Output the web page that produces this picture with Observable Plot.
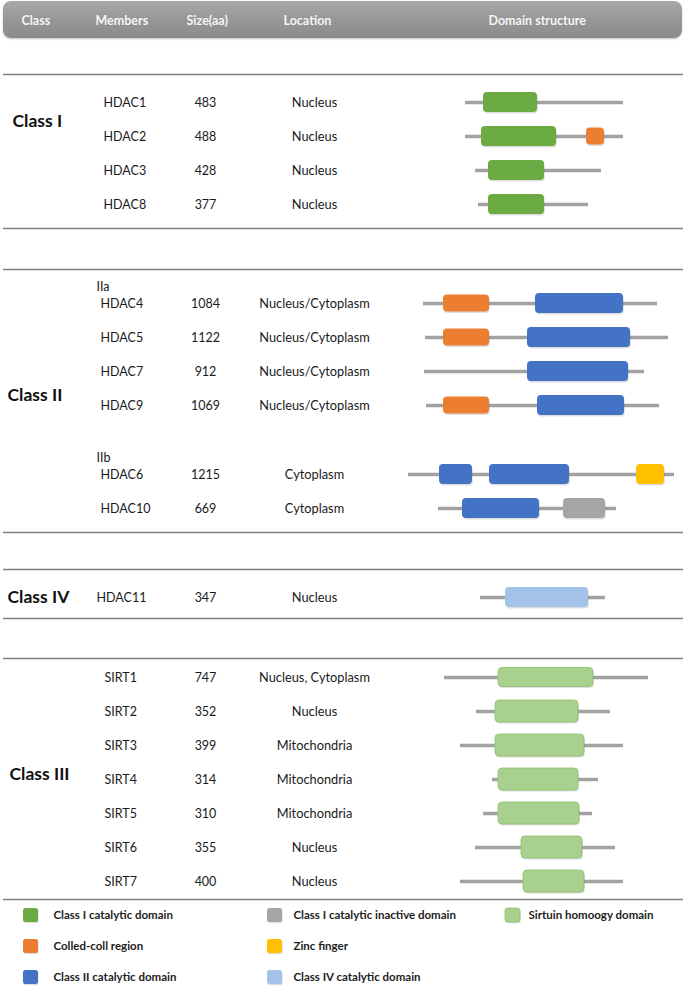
<!DOCTYPE html>
<html>
<head>
<meta charset="utf-8">
<script src="https://cdn.jsdelivr.net/npm/d3@7"></script>
<script src="https://cdn.jsdelivr.net/npm/@observablehq/plot@0.6"></script>
<style>
  html, body { margin: 0; padding: 0; background: #fff; }
  #wrap { position: relative; width: 685px; height: 989px; }
  #hdr { position: absolute; left: 3px; top: 1px; width: 679px; height: 37px; border-radius: 8px;
         background: linear-gradient(#a9a9a9, #959595 55%, #8c8c8c); box-shadow: 0 1px 2px rgba(0,0,0,0.25); }
  #plot { position: absolute; left: 0; top: 0; }
</style>
</head>
<body>
<div id="wrap"><div id="hdr"></div><div id="plot"></div></div>
<script>
// ---------------- DATA ----------------
const headers = ["Class", "Members", "Size(aa)", "Location", "Domain structure"];
const classes = ["Class I", "Class II", "Class IV", "Class III"];
const members = ["HDAC1","HDAC2","HDAC3","HDAC8","HDAC4","HDAC5","HDAC7","HDAC9","HDAC6","HDAC10","HDAC11",
                 "SIRT1","SIRT2","SIRT3","SIRT4","SIRT5","SIRT6","SIRT7"];
const memberClass = ["Class I","Class I","Class I","Class I",
                     "Class II","Class II","Class II","Class II","Class II","Class II",
                     "Class IV",
                     "Class III","Class III","Class III","Class III","Class III","Class III","Class III"];
const subclass = [null,null,null,null,"IIa","IIa","IIa","IIa","IIb","IIb",null,null,null,null,null,null,null,null];
const sizes = [483,488,428,377,1084,1122,912,1069,1215,669,347,747,352,399,314,310,355,400];
const locations = ["Nucleus","Nucleus","Nucleus","Nucleus",
  "Nucleus/Cytoplasm","Nucleus/Cytoplasm","Nucleus/Cytoplasm","Nucleus/Cytoplasm","Cytoplasm","Cytoplasm",
  "Nucleus",
  "Nucleus, Cytoplasm","Nucleus","Mitochondria","Mitochondria","Mitochondria","Nucleus","Nucleus"];
// protein backbone extent in diagram units (drawing is not to aa scale)
const chainStart = [465,465,475,478,423,425,424,426,408,438,480,444,476,460,492,483,475,460];
const chainEnd   = [623,623,601,588,657,668,644,659,674,616,605,648,610,623,598,592,615,623];
// domains
const domainTypes = ["Class I catalytic domain","Colled-coll region","Class II catalytic domain",
  "Class I catalytic inactive domain","Zinc finger","Class IV catalytic domain","Sirtuin homoogy domain"];
const domainMember = ["HDAC1","HDAC2","HDAC2","HDAC3","HDAC8",
  "HDAC4","HDAC4","HDAC5","HDAC5","HDAC7","HDAC9","HDAC9",
  "HDAC6","HDAC6","HDAC6","HDAC10","HDAC10","HDAC11",
  "SIRT1","SIRT2","SIRT3","SIRT4","SIRT5","SIRT6","SIRT7"];
const domainType = ["Class I catalytic domain","Class I catalytic domain","Colled-coll region","Class I catalytic domain","Class I catalytic domain",
  "Colled-coll region","Class II catalytic domain","Colled-coll region","Class II catalytic domain","Class II catalytic domain","Colled-coll region","Class II catalytic domain",
  "Class II catalytic domain","Class II catalytic domain","Zinc finger","Class II catalytic domain","Class I catalytic inactive domain","Class IV catalytic domain",
  "Sirtuin homoogy domain","Sirtuin homoogy domain","Sirtuin homoogy domain","Sirtuin homoogy domain","Sirtuin homoogy domain","Sirtuin homoogy domain","Sirtuin homoogy domain"];
const domainStart = [483,481,586,488,488, 443,535,443,527,527,443,537, 439,489,636,462,563,505, 498,495,495,498,498,521,523];
const domainEnd   = [537,556,604,544,544, 489,623,489,630,628,489,624, 472,569,664,539,605,588, 593,578,584,578,579,582,584];
// legend order: column, row
const legendItems = ["Class I catalytic domain","Colled-coll region","Class II catalytic domain",
  "Class I catalytic inactive domain","Zinc finger","Class IV catalytic domain","Sirtuin homoogy domain"];
const legendCol = [0,0,0,1,1,1,2];
const legendRow = [0,1,2,0,1,2,0];

// ---------------- STYLE / LAYOUT ----------------
const colors = {
  "Class I catalytic domain": "#6cab43",
  "Colled-coll region": "#ed7d31",
  "Class II catalytic domain": "#4472c4",
  "Class I catalytic inactive domain": "#a5a5a5",
  "Zinc finger": "#ffc000",
  "Class IV catalytic domain": "#a4c3e9",
  "Sirtuin homoogy domain": "#a9d18e"
};
const boxH = {"Colled-coll region": 17, "Sirtuin homoogy domain": 22};
const FONT = "Lato, 'Open Sans', sans-serif";
const PITCH = 34;

// vertical layout (cursor-based)
const rules = [];
const rowY = {};
const subLabels = [];
const classLabels = [];
let cur = 74;
function block(cls, opts) {
  rules.push(cur);
  const list = members.filter((m, i) => memberClass[i] === cls);
  let y = cur + opts.first;
  let lastSub = null;
  const ys = [];
  list.forEach((m, k) => {
    const i = members.indexOf(m);
    if (subclass[i] && subclass[i] !== lastSub) {
      if (lastSub !== null) y += opts.subGap;
      subLabels.push({label: subclass[i], y: y});
      y += opts.subStep;
      lastSub = subclass[i];
    } else if (k > 0) {
      y += PITCH;
    }
    rowY[m] = y; ys.push(y);
  });
  classLabels.push({label: cls, y: ys[0] + opts.labelRow * PITCH});
  cur = y + opts.last;
  rules.push(cur);
  cur += opts.after;
}
block("Class I",   {first: 28, last: 24, after: 41, labelRow: 0.55});
block("Class II",  {first: 17, last: 24, after: 37, labelRow: 2.7, subStep: 17, subGap: 52});
block("Class IV",  {first: 28, last: 21, after: 40, labelRow: 0});
block("Class III", {first: 19, last: 18, after: 0, labelRow: 2.85});

const rows = members.map((m, i) => ({
  member: m, cls: memberClass[i], size: sizes[i], loc: locations[i],
  s: chainStart[i], e: chainEnd[i], y: rowY[m]
}));
const memberX = {"Class I": 103, "Class II": 100, "Class IV": 96, "Class III": 104};
const classX = {"Class I": 12, "Class II": 7, "Class IV": 7, "Class III": 9};
const domains = domainMember.map((m, i) => {
  const h = (m === "SIRT1") ? 19 : (boxH[domainType[i]] || 20);
  return {member: m, type: domainType[i], s: domainStart[i], e: domainEnd[i],
          y1: rowY[m] - h / 2, y2: rowY[m] + h / 2};
});
const headerX = [21, 95, 186, 283, 488];
const headerRows = headers.map((h, i) => ({label: h, x: headerX[i], y: 20}));
const legY0 = cur + 16, legStep = 31;
const legSwX = [23, 267, 505], legTxX = [53, 293, 528];
const legend = legendItems.map((t, i) => ({
  label: t, x1: legSwX[legendCol[i]], x2: legSwX[legendCol[i]] + 15,
  tx: legTxX[legendCol[i]], y: legY0 + legendRow[i] * legStep
}));

// ---------------- PLOT ----------------
const chart = Plot.plot({
  width: 685, height: 989, margin: 0,
  x: {domain: [0, 685], range: [0, 685], axis: null},
  y: {domain: [0, 989], range: [0, 989], axis: null},
  style: {background: "transparent", fontFamily: FONT, overflow: "visible"},
  marks: [
    // header texts
    Plot.text(headerRows, {x: "x", y: "y", text: "label", textAnchor: "start", fill: "#f4f4f4",
      fontWeight: "bold", fontSize: 12.5}),
    // separators
    Plot.ruleY(rules, {y: d => d, x1: () => 3, x2: () => 683, stroke: "#7f7f7f", strokeWidth: 1.3}),
    // backbones
    Plot.ruleY(rows, {y: "y", x1: "s", x2: "e", stroke: "#a2a2a2", strokeWidth: 3.5}),
    // domain shadows
    Plot.rect(domains, {x1: "s", x2: "e", y1: "y1", y2: "y2", fill: "#000", fillOpacity: 0.13, rx: 4, dx: 0.8, dy: 1.5}),
    // domains
    Plot.rect(domains, {x1: "s", x2: "e", y1: "y1", y2: "y2", rx: 4,
      fill: d => colors[d.type],
      stroke: d => d.type === "Sirtuin homoogy domain" ? "#8cc06a" : "none", strokeWidth: 0.8}),
    // class labels
    Plot.text(classLabels, {x: d => classX[d.label], y: "y", text: "label", textAnchor: "start", fontWeight: "bold",
      fontSize: 17.5, fill: "#111"}),
    // subclass labels
    Plot.text(subLabels, {x: () => 96, y: "y", text: "label", textAnchor: "start", fontSize: 12.5, fill: "#1a1a1a"}),
    // member / size / location
    Plot.text(rows, {x: d => memberX[d.cls], y: "y", text: "member", textAnchor: "start", fontSize: 12.5, fill: "#1a1a1a"}),
    Plot.text(rows, {x: () => 205, y: "y", text: d => String(d.size), textAnchor: "middle", fontSize: 12.5, fill: "#1a1a1a"}),
    Plot.text(rows, {x: () => 314, y: "y", text: "loc", textAnchor: "middle", fontSize: 12.8, fill: "#1a1a1a"}),
    // legend
    Plot.rect(legend, {x1: "x1", x2: "x2", y1: d => d.y - 7, y2: d => d.y + 7, fill: "#000", fillOpacity: 0.13, rx: 2.5, dx: 0.6, dy: 1.2}),
    Plot.rect(legend, {x1: "x1", x2: "x2", y1: d => d.y - 7, y2: d => d.y + 7, rx: 2.5,
      fill: d => colors[d.label],
      stroke: d => d.label === "Sirtuin homoogy domain" ? "#8cc06a" : "none", strokeWidth: 0.8}),
    Plot.text(legend, {x: "tx", y: "y", text: "label", textAnchor: "start", fontWeight: "bold",
      fontSize: 11.5, fill: "#222"})
  ]
});
document.getElementById("plot").appendChild(chart);
</script>
</body>
</html>
